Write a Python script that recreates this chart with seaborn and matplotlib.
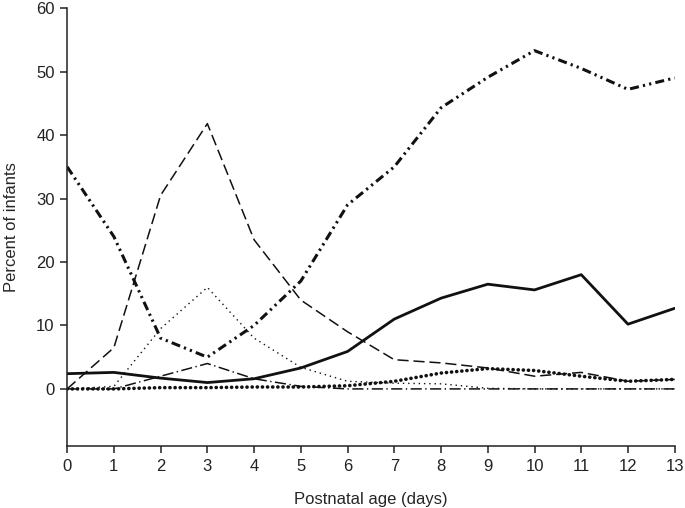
import numpy as np
import pandas as pd
import seaborn as sns
import matplotlib
matplotlib.use("Agg")
import matplotlib.pyplot as plt

days = list(range(14))
dash_dot_dot = [35.0, 24.0, 8.0, 5.0, 10.0, 17.0, 29.0, 35.0, 44.3, 49.1, 53.3, 50.5, 47.2, 49.0]
long_dash = [0.0, 6.5, 30.5, 41.8, 23.5, 14.0, 9.0, 4.6, 4.1, 3.3, 2.0, 2.6, 1.2, 1.5]
fine_dot = [0.0, 0.4, 9.5, 16.0, 8.0, 3.4, 1.2, 0.9, 0.8, 0.1, 0.0, 0.0, 0.0, 0.0]
solid = [2.4, 2.6, 1.7, 1.0, 1.6, 3.3, 5.9, 11.0, 14.3, 16.5, 15.6, 18.0, 10.2, 12.7]
heavy_dot = [0.0, 0.0, 0.2, 0.2, 0.3, 0.3, 0.5, 1.2, 2.5, 3.2, 2.9, 2.0, 1.2, 1.5]
dash_dot = [0.0, 0.0, 2.0, 4.0, 1.6, 0.4, 0.0, 0.0, 0.0, 0.0, 0.0, 0.0, 0.0, 0.0]

sns.set_theme(style="ticks")
plt.rcParams["font.family"] = ["Liberation Sans", "DejaVu Sans"]
plt.rcParams["lines.scale_dashes"] = False

fig = plt.figure(figsize=(6.85, 5.08), dpi=100)
ax = fig.add_axes([0.098, 0.122, 0.887, 0.862])

series = [
    (dash_dot_dot, dict(lw=2.2, linestyle=(0, (6.5, 3, 1.6, 3, 1.6, 3)))),
    (long_dash, dict(lw=1.1, linestyle=(0, (8, 3.5)))),
    (fine_dot, dict(lw=1.0, linestyle=(0, (1, 2.8)))),
    (solid, dict(lw=2.0, linestyle="-")),
    (heavy_dot, dict(lw=2.6, linestyle=(0, (0.1, 3.6)), dash_capstyle="round")),
    (dash_dot, dict(lw=1.1, linestyle=(0, (8, 2.5, 1, 2.5)))),
]
for vals, kw in series:
    df = pd.DataFrame({"day": days, "pct": vals})
    sns.lineplot(data=df, x="day", y="pct", ax=ax, color="#111111", **kw)

ax.set_xlim(0, 13)
ax.set_ylim(-9, 60)
ax.set_xticks(days)
ax.set_yticks([0, 10, 20, 30, 40, 50, 60])
ax.set_xlabel("Postnatal age (days)", fontsize=12, labelpad=13)
ax.set_ylabel("Percent of infants", fontsize=12, labelpad=12)
ax.tick_params(axis="both", labelsize=12, direction="out", length=5, width=1.1,
               colors="#222222", pad=4)
for s in ["top", "right"]:
    ax.spines[s].set_visible(False)
for s in ["left", "bottom"]:
    ax.spines[s].set_linewidth(1.1)
    ax.spines[s].set_color("#222222")

fig.savefig("out.png", dpi=100)
